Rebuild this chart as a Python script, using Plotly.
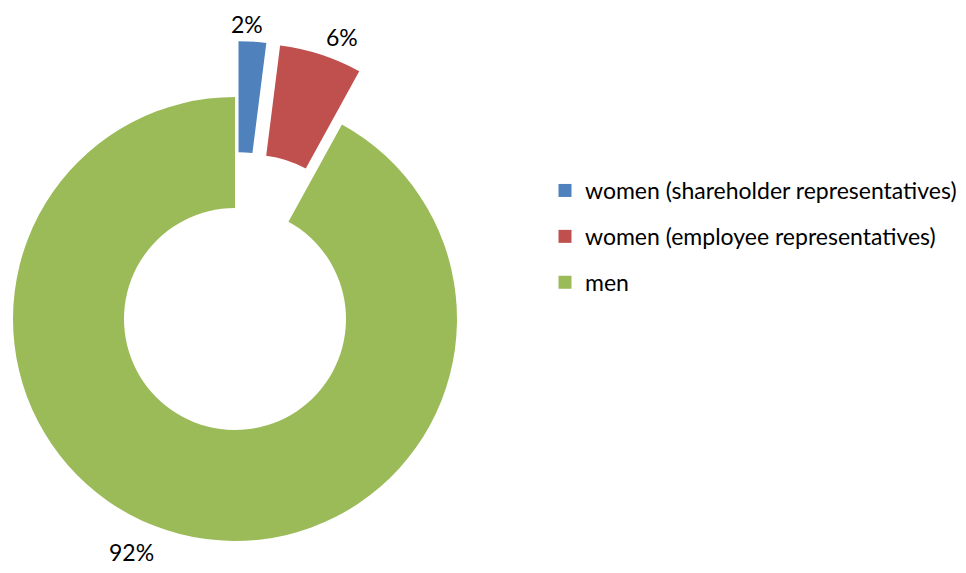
import math
import plotly.graph_objects as go

# ---- data ----
labels = ["women (shareholder representatives)", "women (employee representatives)", "men"]
values = [2, 6, 92]
colors = ["#4F81BD", "#C0504D", "#9BBB59"]
pulled = [True, True, False]

# ---- layout geometry / styling (figure pixels, degrees) ----
W, H = 966, 573
cx, cy, R = 227, 311, 222      # centre / radius of the ring
hole = 0.5
pull_frac = 0.252              # slice explosion as a fraction of radius
FONT = "Lato"
LABEL_SIZE = 23
LABEL_GAP = 6
label_angle_nudge = [-1.6, 3.3, 8.8]   # hand placement of the data labels
label_radial_nudge = [0, 6, 14]

def domain_for(center_x, center_y):
    return dict(
        x=[(center_x - R) / W, (center_x + R) / W],
        y=[(H - center_y - R) / H, (H - center_y + R) / H],
    )

total = sum(values)
fig = go.Figure()

start = 0.0
bisectors = []
for v in values:
    ang = 360.0 * v / total
    bisectors.append(start + ang / 2)
    start += ang

centers = []
for i, p in enumerate(pulled):
    a = math.radians(bisectors[i])
    f = pull_frac if p else 0.0
    centers.append((cx + R * f * math.sin(a), cy - R * f * math.cos(a)))

# base ring holds the non-pulled slices; each exploded slice gets its own trace
layers = [([not p for p in pulled], (cx, cy))]
for i, p in enumerate(pulled):
    if p:
        layers.append(([j == i for j in range(len(values))], centers[i]))

for mask, (px, py) in layers:
    fig.add_trace(go.Pie(
        labels=labels,
        values=values,
        sort=False,
        direction="clockwise",
        rotation=0,
        hole=hole,
        domain=domain_for(px, py),
        marker=dict(colors=[c if m else "rgba(0,0,0,0)" for c, m in zip(colors, mask)],
                    line=dict(width=0)),
        textinfo="none",
        showlegend=False,
        hoverinfo="label+percent",
    ))

# percentage labels just outside each slice
for i, v in enumerate(values):
    a = math.radians(bisectors[i] + label_angle_nudge[i])
    s, c = math.sin(a), -math.cos(a)
    text = f"{round(100 * v / total)}%"
    w_est = 0.58 * LABEL_SIZE * len(text)
    h_est = LABEL_SIZE
    px0, py0 = centers[i]
    r_lab = R + LABEL_GAP + label_radial_nudge[i]
    tx = px0 + r_lab * s + (w_est / 2) * s
    ty = py0 + r_lab * c + (h_est / 2) * c
    fig.add_annotation(
        x=tx / W, y=(H - ty) / H, xref="paper", yref="paper",
        text=text, showarrow=False, xanchor="center", yanchor="middle",
        font=dict(family=FONT, size=LABEL_SIZE, color="#000000"),
    )

# legend entries
for lab, col in zip(labels, colors):
    fig.add_trace(go.Scatter(
        x=[None], y=[None], mode="markers", name=lab, legendgroup=lab,
        marker=dict(symbol="square", size=13, color=col),
        hoverinfo="skip",
    ))

fig.update_layout(
    width=W, height=H,
    margin=dict(l=0, r=0, t=0, b=0),
    paper_bgcolor="white", plot_bgcolor="white",
    xaxis=dict(visible=False), yaxis=dict(visible=False),
    legend=dict(
        x=537 / W, xanchor="left",
        y=(H - 161) / H, yanchor="top",
        font=dict(family=FONT, size=23, color="#000000"),
        tracegroupgap=13,
        bgcolor="rgba(0,0,0,0)",
    ),
)

fig.write_html("out.html")
